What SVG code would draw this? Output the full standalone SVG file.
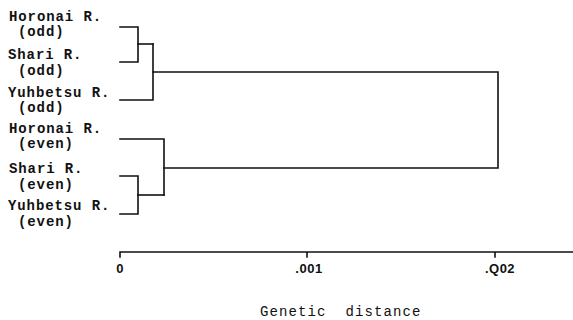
<svg xmlns="http://www.w3.org/2000/svg" width="573" height="320" viewBox="0 0 573 320">
  <style>
    .lbl { font-family: "Liberation Mono", "Courier New", monospace; font-weight: bold; font-size: 14px; letter-spacing: 0.9px; fill: #111; }
    .tick { font-family: "Liberation Sans", Arial, sans-serif; font-weight: bold; font-size: 13px; letter-spacing: 0.5px; fill: #111; text-anchor: middle; }
    .title { font-family: "Liberation Mono", "Courier New", monospace; font-size: 14px; letter-spacing: 1.1px; fill: #111; }
    .br { fill: none; stroke: #111; stroke-width: 1.6; stroke-linecap: square; }
  </style>
  <rect width="573" height="320" fill="#fff"/>

  <!-- leaf labels -->
  <g id="horonai-odd"><text class="lbl" x="9" y="21">Horonai R.</text><text class="lbl" x="18" y="36">(odd)</text></g>
  <g id="shari-odd"><text class="lbl" x="8" y="59">Shari R.</text><text class="lbl" x="18" y="75">(odd)</text></g>
  <g id="yuhbetsu-odd"><text class="lbl" x="8" y="97">Yuhbetsu R.</text><text class="lbl" x="18" y="112">(odd)</text></g>
  <g id="horonai-even"><text class="lbl" x="9" y="133">Horonai R.</text><text class="lbl" x="18" y="148">(even)</text></g>
  <g id="shari-even"><text class="lbl" x="9" y="173">Shari R.</text><text class="lbl" x="18" y="189">(even)</text></g>
  <g id="yuhbetsu-even"><text class="lbl" x="8" y="210">Yuhbetsu R.</text><text class="lbl" x="18" y="226">(even)</text></g>

  <!-- dendrogram branches -->
  <g id="connectors" class="br">
    <path d="M120,27 H138 V62 H120"/>
    <path d="M138,44 H153"/>
    <path d="M120,100 H153 V44"/>
    <path d="M153,72 H498 V168 H164"/>
    <path d="M120,176 H138 V214 H120"/>
    <path d="M138,195 H164"/>
    <path d="M120,139 H164 V195"/>
  </g>

  <!-- distance scale -->
  <g id="axis">
    <path class="br" d="M120,252 H573 M120,252 V257 M307,252 V257 M495,252 V257"/>
    <text class="tick" x="120" y="273">0</text>
    <text class="tick" x="309" y="273">.001</text>
    <text class="tick" x="500" y="273">.Q02</text>
    <text class="title" x="260" y="316" xml:space="preserve">Genetic  distance</text>
  </g>
</svg>
